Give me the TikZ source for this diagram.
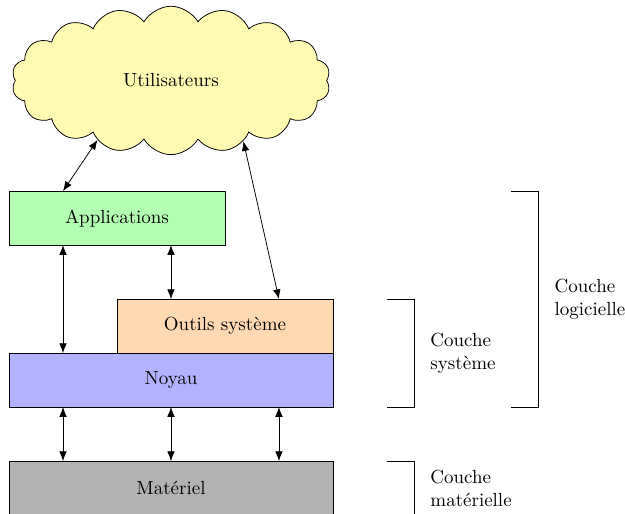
\documentclass[tikz,border=0pt]{standalone}
\usepackage{tikz}
\usetikzlibrary{positioning}
\usetikzlibrary{shapes.symbols}
\usetikzlibrary{arrows.meta}

\begin{document}
\begin{tikzpicture}[>={Latex[length=1.8mm,width=1.4mm]},
  layer/.style={draw, minimum height=1cm, outer sep=0pt, inner sep=0pt},
  couche/.style={align=left, anchor=west, inner sep=0pt}]
\useasboundingbox (-0.167,0.037) rectangle (11.41,9.54);
% couches
\node (materiel) [layer, fill=black!30, minimum width=6cm, anchor=south west] at (0,0) {Matériel};
\node (noyau) [layer, fill=blue!30, minimum width=6cm, above=1cm of materiel] {Noyau};
\node (outils) [layer, fill=orange!30, minimum width=4cm, above left=0cm and 0cm of noyau.north east] {Outils système};
\node (apps) [layer, fill=green!30, minimum width=4cm, above right=2cm and 0cm of noyau.north west] {Applications};
\node (users) [cloud, draw, fill=yellow!30, cloud puffs=18, cloud puff arc=120, cloud ignores aspect, minimum width=5.9cm, minimum height=2.75cm] at (3,8.05) {Utilisateurs};

% fleches
\draw [<->] (users.219) -- ([xshift=1cm]apps.north west);
\draw [<->] (users.-40) -- ([xshift=-1cm]outils.north east);
\draw [<->] ([xshift=1cm]apps.south west) -- ([xshift=1cm]noyau.north west);
\draw [<->] ([xshift=-1cm]apps.south east) -- ([xshift=1cm]outils.north west);
\foreach \x in {1,3,5}
  \draw [<->] ([xshift=\x cm]noyau.south west) -- ([xshift=\x cm]materiel.north west);

% accolades
\draw ([xshift=1cm]outils.north east) -| ([xshift=1.5cm]noyau.south east) -- ([xshift=1cm]noyau.south east);
\draw ([xshift=1cm]materiel.north east) -| ([xshift=1.5cm]materiel.south east);
\draw ([xshift=5.3cm]apps.north east) -| ([xshift=3.8cm]noyau.south east) -- ([xshift=3.3cm]noyau.south east);

\node (csys) [couche] at (7.8,3) {Couche\\système};
\node (clog) [couche] at (10.1,4) {Couche\\logicielle};
\node (cmat) [couche] at (7.8,0.5) {Couche\\matérielle};
\end{tikzpicture}
\end{document}
